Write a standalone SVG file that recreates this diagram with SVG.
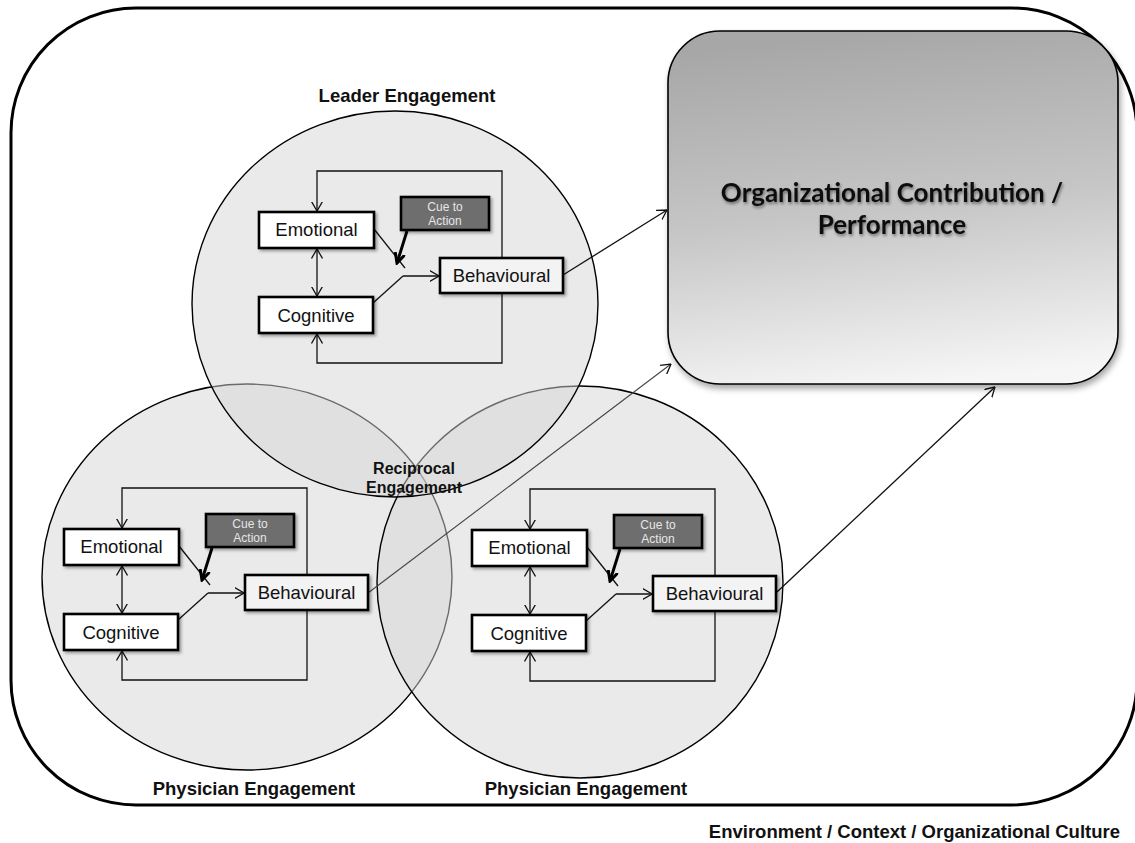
<svg xmlns="http://www.w3.org/2000/svg" width="1135" height="843" viewBox="0 0 1135 843">
<style>
.lbl{font-family:"Liberation Sans",Arial,sans-serif;font-weight:bold;fill:#111}
.nt{font-family:"Liberation Sans",Arial,sans-serif;font-size:18.5px;fill:#111;text-anchor:middle}
.ct{font-family:"Liberation Sans",Arial,sans-serif;font-size:12px;fill:#e6e6e6;text-anchor:middle}
.wb{fill:#fff;stroke:#000;stroke-width:2.6}
.bb{fill:#f3f3f3;stroke:#000;stroke-width:2.6}
.cb{fill:#6e6e6e;stroke:#000;stroke-width:2.6}
.ln{fill:none;stroke:#111;stroke-width:1.3}
.circ{fill:#d6d6d6;fill-opacity:0.5;stroke:#000;stroke-width:1.4}
</style>
<defs>
<marker id="a" viewBox="0 0 10 12" refX="9.5" refY="6" markerWidth="10" markerHeight="12" orient="auto-start-reverse" markerUnits="userSpaceOnUse">
<path d="M0,0.5 L9.5,6 L0,11.5" fill="none" stroke="#111" stroke-width="1.3"/>
</marker>
<marker id="t" viewBox="0 0 12 12" refX="10" refY="6" markerWidth="12" markerHeight="12" orient="auto" markerUnits="userSpaceOnUse">
<path d="M0,1 L10,6 L0,11" fill="none" stroke="#000" stroke-width="3"/>
</marker>
<filter id="sh" x="-10%" y="-10%" width="130%" height="140%">
<feDropShadow dx="2" dy="2" stdDeviation="1.5" flood-color="#000" flood-opacity="0.35"/>
</filter>
<filter id="bsh" x="-5%" y="-5%" width="115%" height="115%">
<feDropShadow dx="2" dy="4" stdDeviation="3" flood-color="#000" flood-opacity="0.35"/>
</filter>
<filter id="tsh" x="-5%" y="-20%" width="110%" height="160%">
<feDropShadow dx="1" dy="2" stdDeviation="1.5" flood-color="#000" flood-opacity="0.45"/>
</filter>
<linearGradient id="g" x1="0.45" y1="0" x2="0.6" y2="1">
<stop offset="0" stop-color="#a7a7a7"/>
<stop offset="0.5" stop-color="#c6c6c6"/>
<stop offset="1" stop-color="#f6f6f6"/>
</linearGradient>
<g id="eng">
<path class="ln" d="M502,258 V171 H317 V211" marker-end="url(#a)"/>
<path class="ln" d="M502,293 V363 H317 V334" marker-end="url(#a)"/>
<path class="ln" d="M317,249 V296" marker-start="url(#a)" marker-end="url(#a)"/>
<path class="ln" d="M374,229 L405,268"/>
<path class="ln" d="M373,303 L403,276"/>
<path class="ln" d="M403,276 H439" marker-end="url(#a)"/>
<rect class="wb" x="259" y="212" width="115" height="36" filter="url(#sh)"/>
<rect class="wb" x="259" y="297" width="114" height="36" filter="url(#sh)"/>
<rect class="bb" x="440" y="258" width="123" height="35" filter="url(#sh)"/>
<rect class="cb" x="401" y="197" width="88" height="33" filter="url(#sh)"/>
<path d="M407,231 L397,263" fill="none" stroke="#000" stroke-width="3" marker-end="url(#t)"/>
<text class="nt" x="316.5" y="236">Emotional</text>
<text class="nt" x="316" y="322">Cognitive</text>
<text class="nt" x="501.5" y="282">Behavioural</text>
<text class="ct" x="445" y="211">Cue to</text>
<text class="ct" x="445" y="225">Action</text>
</g>
</defs>
<rect width="1135" height="843" fill="#fff"/>
<rect id="environment" x="11" y="8" width="1126" height="797" rx="125" ry="125" fill="none" stroke="#000" stroke-width="3"/>
<g id="org-box">
<rect x="668" y="31" width="450" height="353" rx="52" ry="52" fill="url(#g)" stroke="#000" stroke-width="1.6" filter="url(#bsh)"/>
<g filter="url(#tsh)">
<text x="892" y="202" text-anchor="middle" font-family="Lato,'Open Sans',sans-serif" font-weight="bold" font-size="26" fill="#111">Organizational Contribution /</text>
<text x="892" y="234" text-anchor="middle" font-family="Lato,'Open Sans',sans-serif" font-weight="bold" font-size="26" fill="#111">Performance</text>
</g>
</g>
<g id="circles">
<ellipse id="physician-left-circle" class="circ" cx="247" cy="577" rx="205" ry="193"/>
<ellipse id="physician-right-circle" class="circ" cx="580" cy="582" rx="203" ry="196"/>
<ellipse id="leader-circle" class="circ" cx="395" cy="304" rx="203" ry="193"/>
</g>
<g id="connectors">
<line x1="368" y1="593" x2="671" y2="364" stroke="#444" stroke-width="1.1" marker-end="url(#a)"/>
<line x1="563" y1="275" x2="667" y2="210" class="ln" marker-end="url(#a)"/>
<line x1="777" y1="592" x2="995" y2="387" class="ln" marker-end="url(#a)"/>
</g>
<g id="leader-engagement">
<use href="#eng"/>
</g>
<g id="physician-left">
<use href="#eng" transform="translate(-195,317)"/>
</g>
<g id="physician-right">
<use href="#eng" transform="translate(213,318)"/>
</g>
<g id="labels">
<text class="lbl" x="407" y="102" font-size="18.5" text-anchor="middle">Leader Engagement</text>
<text class="lbl" x="414" y="474" font-size="16" text-anchor="middle">Reciprocal</text>
<text class="lbl" x="414" y="493" font-size="16" text-anchor="middle">Engagement</text>
<text class="lbl" x="254" y="795" font-size="18.5" text-anchor="middle">Physician Engagement</text>
<text class="lbl" x="586" y="795" font-size="18.5" text-anchor="middle">Physician Engagement</text>
<text class="lbl" x="1120" y="838" font-size="18.5" text-anchor="end">Environment / Context / Organizational Culture</text>
</g>
</svg>
